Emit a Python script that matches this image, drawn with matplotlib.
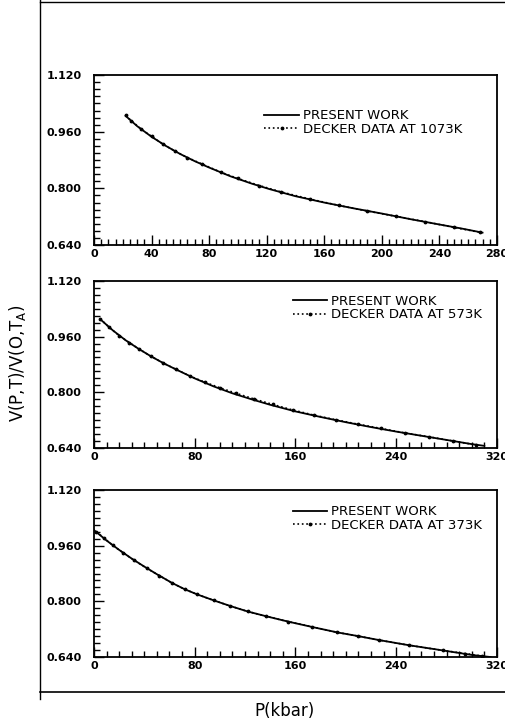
import matplotlib
matplotlib.use('Agg')
import matplotlib.pyplot as plt
from matplotlib.ticker import MultipleLocator, FormatStrFormatter
from matplotlib.lines import Line2D

# --- data ---
# 1073K
p_1073 = [22, 30, 40, 50, 60, 70, 80, 95, 110, 122, 140, 160, 180, 200, 220, 240, 255, 270]
v_1073 = [1.005, 0.976, 0.946, 0.920, 0.897, 0.877, 0.859, 0.834, 0.813, 0.798,
          0.778, 0.760, 0.744, 0.729, 0.713, 0.698, 0.687, 0.675]
pd_1073 = [22, 26, 33, 40, 48, 56, 65, 75, 88, 100, 115, 130, 150, 170, 190, 210, 230, 250, 268]
vd_1073 = [1.006, 0.991, 0.967, 0.947, 0.925, 0.906, 0.887, 0.869, 0.846, 0.828, 0.808,
           0.790, 0.770, 0.752, 0.736, 0.721, 0.706, 0.690, 0.676]

# 573K
p_573 = [5, 15, 25, 35, 45, 55, 65, 80, 95, 110, 125, 140, 160, 180, 200, 220, 240, 260, 280, 300, 310]
v_573 = [1.010, 0.978, 0.950, 0.926, 0.904, 0.884, 0.866, 0.840, 0.817, 0.797, 0.780,
         0.764, 0.745, 0.729, 0.714, 0.700, 0.687, 0.675, 0.663, 0.651, 0.646]
pd_573 = [5, 12, 20, 28, 36, 45, 55, 65, 76, 88, 100, 113, 127, 142, 158, 175, 192, 210,
          228, 247, 266, 285, 303]
vd_573 = [1.011, 0.987, 0.963, 0.943, 0.924, 0.904, 0.884, 0.866, 0.847, 0.829, 0.813,
          0.797, 0.781, 0.765, 0.749, 0.734, 0.721, 0.708, 0.696, 0.683, 0.672, 0.660, 0.649]

# 373K
p_373 = [0, 10, 20, 30, 40, 50, 62, 72, 82, 95, 108, 122, 137, 154, 175, 193, 210, 226,
         250, 277, 300, 315]
v_373 = [1.005, 0.975, 0.948, 0.923, 0.900, 0.878, 0.853, 0.835, 0.820, 0.803, 0.787,
         0.771, 0.757, 0.742, 0.725, 0.711, 0.700, 0.689, 0.674, 0.659, 0.646, 0.640]
pd_373 = [2, 8, 15, 23, 32, 42, 52, 62, 72, 82, 95, 108, 122, 137, 154, 173, 193, 210,
          226, 250, 277, 295, 308]
vd_373 = [1.000, 0.982, 0.961, 0.940, 0.918, 0.895, 0.874, 0.853, 0.835, 0.820, 0.803,
          0.787, 0.771, 0.757, 0.742, 0.727, 0.711, 0.700, 0.689, 0.674, 0.659, 0.650, 0.643]

yticks = [0.640, 0.800, 0.960, 1.120]

panels = [
    # data, xmax, x major step, x minor step, label, axes rect, legend anchor
    (p_1073, v_1073, pd_1073, vd_1073, 280, 40, 5, 'DECKER DATA AT 1073K',
     [0.186, 0.6625, 0.798, 0.234], (0.41, 0.83)),
    (p_573, v_573, pd_573, vd_573, 320, 80, 10, 'DECKER DATA AT 573K',
     [0.186, 0.383, 0.798, 0.230], (0.48, 0.95)),
    (p_373, v_373, pd_373, vd_373, 320, 80, 10, 'DECKER DATA AT 373K',
     [0.186, 0.095, 0.798, 0.230], (0.48, 0.94)),
]

fig = plt.figure(figsize=(5.05, 7.26), dpi=100)

for p, v, pdk, vdk, xmax, xmaj, xmin, lab, rect, anchor in panels:
    ax = fig.add_axes(rect)
    ax.plot(p, v, color='black', linewidth=1.3, label='PRESENT WORK')
    ax.plot(pdk, vdk, color='black', linestyle=':', linewidth=1.2,
            marker='.', markersize=3.5, label=lab)
    ax.set_xlim(0, xmax)
    ax.set_ylim(0.64, 1.12)
    ax.set_yticks(yticks)
    ax.yaxis.set_major_formatter(FormatStrFormatter('%.3f'))
    ax.yaxis.set_minor_locator(MultipleLocator(0.02))
    ax.xaxis.set_major_locator(MultipleLocator(xmaj))
    ax.xaxis.set_minor_locator(MultipleLocator(xmin))
    ax.tick_params(which='both', direction='in', top=False, right=False,
                   labelsize=8, width=1.0)
    ax.tick_params(which='major', length=7)
    ax.tick_params(axis='y', which='major', pad=9)
    ax.tick_params(axis='x', which='major', pad=3)
    ax.tick_params(which='minor', length=4)
    for t in ax.get_xticklabels() + ax.get_yticklabels():
        t.set_fontweight('bold')
    for s in ax.spines.values():
        s.set_linewidth(1.3)
    leg = ax.legend(loc='upper left', bbox_to_anchor=anchor, frameon=False,
                    fontsize=9.5, handlelength=2.6, handletextpad=0.3,
                    labelspacing=0.05, borderaxespad=0)
    leg.set_clip_on(False)

# outer frame (open on the right, cut by the image edge)
fx0, fy0, fy1 = 40 / 505, 1 - 692 / 726, 1 - 2 / 726
fig.add_artist(Line2D([fx0, fx0], [fy0 - 0.01, 1.0], color='black', linewidth=1.0))
fig.add_artist(Line2D([fx0, 1.0], [fy1, fy1], color='black', linewidth=1.0))
fig.add_artist(Line2D([fx0, 1.0], [fy0, fy0], color='black', linewidth=1.2))

fig.text(18 / 505, 0.5, r'V(P,T)/V(O,T$_{\mathrm{A}}$)', rotation=90,
         ha='center', va='center', fontsize=12)
fig.text(285 / 505, 1 - 711 / 726, 'P(kbar)', ha='center', va='center', fontsize=12)

fig.savefig('out.png', dpi=100)
